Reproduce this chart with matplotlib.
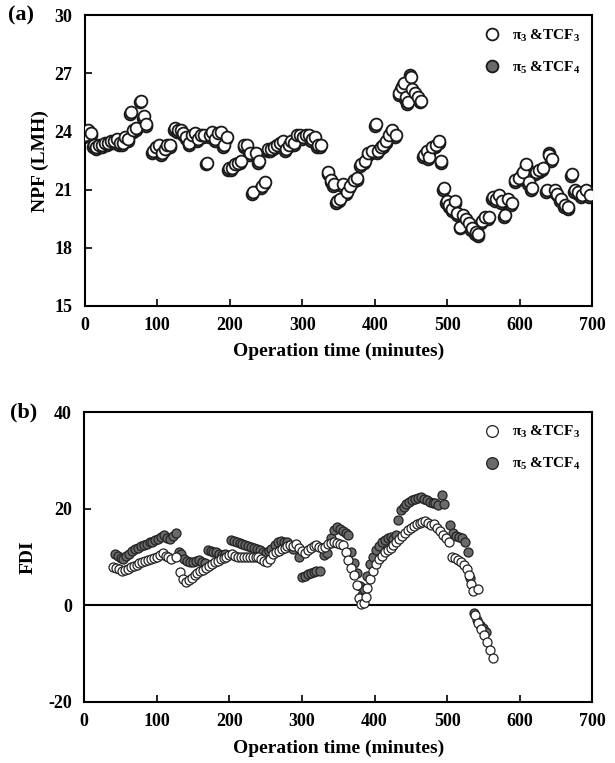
import matplotlib.pyplot as plt
import numpy as np

plt.rcParams['font.family'] = ['Liberation Serif', 'DejaVu Serif']
plt.rcParams['font.weight'] = 'bold'
plt.rcParams['mathtext.fontset'] = 'custom'
plt.rcParams['mathtext.rm'] = 'Liberation Serif:bold'
plt.rcParams['mathtext.it'] = 'Liberation Serif:bold'
plt.rcParams['mathtext.bf'] = 'Liberation Serif:bold'
plt.rcParams['axes.unicode_minus'] = False

# (a) NPF, pi3 & TCF3 (white markers)
npf_t_w = [0, 4, 9, 12, 16, 20, 24, 28, 32, 36, 40, 44, 48, 52, 56, 60, 63, 67, 71, 77, 81, 85,
           94, 98, 102, 106, 110, 114, 118,
           124, 128, 132, 136, 140, 144, 148, 152, 156, 160, 164, 168, 172, 176, 180, 184, 188, 192, 196,
           199, 203, 207, 211, 215, 220, 224, 228, 232, 236, 240, 244, 248,
           253, 257, 261, 265, 269, 273, 277, 281, 285, 289, 293, 297, 301, 305, 309, 313, 317, 321, 326,
           336, 340, 344, 348, 352, 356, 361, 366, 371, 376, 381, 386, 391, 396,
           401, 404, 408, 412, 416, 420, 424, 429,
           434, 437, 440, 443, 446, 450, 452, 456, 460, 464,
           468, 472, 475, 479, 484, 489, 492, 495, 499, 503, 507, 511, 514, 518, 522, 526, 530, 534,
           539, 543, 548, 552, 557, 563, 567, 571, 575, 579, 584, 589,
           594, 599, 604, 609, 613, 617, 622, 627, 632, 637, 641, 644, 648, 652, 657, 662, 667,
           672, 676, 681, 686, 691, 697]
npf_v_w = [23.8, 24.1, 23.9, 23.3, 23.2, 23.3, 23.3, 23.4, 23.4, 23.5, 23.5, 23.6, 23.4, 23.4, 23.7, 23.6,
           25.0, 24.1, 24.2, 25.6, 24.8, 24.4,
           23.0, 23.2, 23.3, 22.9, 23.1, 23.3, 23.3,
           24.2, 24.1, 24.1, 23.9, 23.7, 23.4, 23.8, 23.9, 23.6, 23.8, 23.8, 22.4, 23.8, 24.0, 23.6, 23.9,
           24.0, 23.3, 23.7,
           22.1, 22.1, 22.3, 22.4, 22.5, 23.3, 23.3, 22.9, 20.9, 22.9, 22.5, 21.2, 21.4,
           23.1, 23.1, 23.2, 23.3, 23.4, 23.5, 23.1, 23.3, 23.5, 23.4, 23.8, 23.8, 23.7, 23.8, 23.8, 23.6,
           23.7, 23.3, 23.3,
           21.9, 21.5, 21.3, 20.4, 20.5, 21.3, 20.9, 21.2, 21.5, 21.6, 22.3, 22.5, 22.9, 23.0,
           24.4, 23.0, 23.2, 23.3, 23.5, 23.8, 24.1, 23.8,
           26.0, 26.3, 26.5, 25.8, 25.5, 26.8, 26.2, 26.0, 25.8, 25.6,
           22.8, 23.0, 22.7, 23.2, 23.3, 23.5, 22.5, 21.1, 20.4, 20.2, 20.0, 20.4, 19.8, 19.1, 19.7, 19.5,
           19.3, 19.0,
           18.8, 18.7, 19.4, 19.6, 19.6, 20.6, 20.5, 20.7, 20.4, 19.7, 20.5, 20.3,
           21.5, 21.6, 21.9, 22.3, 21.4, 21.1, 21.9, 22.0, 22.1, 21.0, 22.8, 22.6, 21.0, 20.8, 20.5, 20.2,
           20.1,
           21.8, 21.0, 20.9, 20.7, 21.0, 20.7]

# (a) NPF, pi5 & TCF4 (grey markers, mostly hidden behind the white ones)
npf_t_g = [-1, 3, 8, 11, 15, 19, 23, 27, 31, 35, 39, 43, 47, 51, 55, 59, 62, 66, 70, 76, 80, 84,
           93, 97, 101, 105, 109, 113, 117,
           123, 127, 131, 135, 139, 143, 147, 151, 155, 159, 163, 167, 171, 175, 179, 183, 187, 191, 195,
           198, 202, 206, 210, 214, 219, 223, 227, 231, 235, 239, 243, 247,
           252, 256, 260, 264, 268, 272, 276, 280, 284, 288, 292, 296, 300, 304, 308, 312, 316, 320, 325,
           335, 339, 343, 347, 351, 355, 360, 365, 370, 375, 380, 385, 390, 395,
           400, 403, 407, 411, 415, 419, 423, 428,
           433, 436, 439, 442, 445, 449, 451, 455, 459, 463,
           467, 471, 474, 478, 483, 488, 491, 494, 498, 502, 506, 510, 513, 517, 521, 525, 529, 533,
           538, 542, 547, 551, 556, 562, 566, 570, 574, 578, 583, 588,
           593, 598, 603, 608, 612, 616, 621, 626, 631, 636, 640, 643, 647, 651, 656, 661, 666,
           671, 675, 680, 685, 690, 696]
npf_v_g = [23.7, 24.0, 23.8, 23.2, 23.1, 23.2, 23.2, 23.3, 23.3, 23.4, 23.4, 23.5, 23.3, 23.3, 23.6, 23.5,
           24.9, 24.0, 24.1, 25.5, 24.7, 24.3,
           22.9, 23.1, 23.2, 22.8, 23.0, 23.2, 23.2,
           24.1, 24.0, 24.0, 23.8, 23.6, 23.3, 23.7, 23.8, 23.5, 23.7, 23.7, 22.3, 23.7, 23.9, 23.5, 23.8,
           23.9, 23.2, 23.6,
           22.0, 22.0, 22.2, 22.3, 22.4, 23.2, 23.2, 22.8, 20.8, 22.8, 22.4, 21.1, 21.3,
           23.0, 23.0, 23.1, 23.2, 23.3, 23.4, 23.0, 23.2, 23.4, 23.3, 23.7, 23.7, 23.6, 23.7, 23.7, 23.5,
           23.6, 23.2, 23.2,
           21.8, 21.4, 21.2, 20.3, 20.4, 21.2, 20.8, 21.1, 21.4, 21.5, 22.2, 22.4, 22.8, 22.9,
           24.3, 22.9, 23.1, 23.2, 23.4, 23.7, 24.0, 23.7,
           25.9, 26.2, 26.4, 25.7, 25.4, 26.9, 26.1, 25.9, 25.7, 25.5,
           22.7, 22.9, 22.6, 23.1, 23.2, 23.4, 22.4, 21.0, 20.3, 20.1, 19.9, 20.3, 19.7, 19.0, 19.6, 19.4,
           19.2, 18.9,
           18.7, 18.6, 19.3, 19.5, 19.5, 20.5, 20.4, 20.6, 20.3, 19.6, 20.4, 20.2,
           21.4, 21.5, 21.8, 22.2, 21.3, 21.0, 21.8, 21.9, 22.0, 20.9, 22.9, 22.5, 20.9, 20.7, 20.4, 20.1,
           20.0,
           21.7, 20.9, 20.8, 20.6, 20.9, 20.6]

# (b) FDI, pi3 & TCF3 (white markers)
fdi_t_w = [40, 44, 48, 52, 56, 60, 64, 68, 72, 76, 80, 84, 88, 92, 96, 100, 104, 108, 112, 116, 120, 126,
           132, 136, 140, 144, 148, 152, 156, 160, 164, 168, 172, 176, 180, 184, 188, 192, 196, 200,
           204, 208, 212, 216, 220, 224, 228, 232, 236, 240, 244, 248, 252, 256, 260, 264, 268, 272,
           276, 280, 284, 288, 292, 296, 300, 304, 308, 312, 316, 320, 324, 328, 332, 336, 340, 344,
           348, 352, 356, 360, 364, 368, 372, 376, 379, 381, 385, 388, 390, 394, 398, 402, 406, 410,
           414, 418, 422, 426, 430, 434, 438, 442, 446, 450, 454, 458, 462, 466, 470, 474, 478, 482,
           486, 490, 494, 498, 502, 507, 511, 515, 519, 523, 527, 530, 533, 535, 543,
           539, 543, 547, 551, 555, 559, 563]
fdi_v_w = [8.0, 7.8, 7.5, 7.2, 7.3, 7.6, 7.9, 8.2, 8.4, 8.7, 9.0, 9.2, 9.4, 9.6, 9.8, 10.1, 10.4, 10.8,
           10.3, 9.9, 9.6, 10.0,
           6.8, 5.5, 4.8, 5.2, 5.7, 6.2, 6.6, 7.0, 7.4, 7.8, 8.2, 8.5, 8.9, 9.2, 9.5, 9.8, 10.1, 10.4,
           10.7, 10.2, 10.0, 10.0, 10.0, 10.1, 10.0, 10.0, 10.0, 9.9, 9.6, 9.2, 8.9, 9.6, 10.6, 11.0,
           11.3, 11.6, 11.9, 12.2, 12.4, 12.2, 12.6, 11.8, 11.3, 10.8, 11.4, 11.8, 12.2, 12.4, 12.1,
           11.9, 12.1, 12.6, 12.9, 13.2, 12.9, 12.6, 12.4, 11.0, 9.4, 7.8, 6.3, 4.2, 1.5, 0.2, 0.4,
           1.8, 3.5, 5.4, 7.0, 8.5, 9.6, 10.3, 11.0, 11.5, 11.9, 12.4, 13.2, 13.8, 14.4, 15.0, 15.6,
           16.1, 16.5, 16.8, 17.0, 17.3, 17.5, 17.0, 16.6, 16.9, 16.0, 15.4, 14.6, 14.0, 13.2, 10.0,
           9.8, 9.4, 9.0, 8.4, 7.5, 6.3, 4.5, 3.0, 3.4,
           -2.0, -3.6, -4.8, -6.2, -7.6, -9.2, -10.8]

# (b) FDI, pi5 & TCF4 (grey markers)
fdi_t_g = [42, 46, 50, 54, 58, 62, 66, 70, 74, 78, 82, 86, 90, 94, 98, 102, 106, 110, 114, 118, 122, 126,
           130, 134, 138, 142, 146, 150, 154, 158, 162, 166, 170, 174, 178, 182, 186, 190, 194,
           202, 206, 210, 214, 218, 222, 226, 230, 234, 238, 242, 246, 250, 254, 258, 263, 267, 271,
           275, 279, 283, 287,
           296, 300, 304, 308, 312, 316, 320, 325, 330, 334, 340, 344, 348, 352, 356, 360, 364, 368,
           372, 376, 380, 383, 386, 390, 394, 398, 402, 406, 410, 414, 418, 422, 426, 430, 433, 436,
           440, 444, 448, 452, 456, 460, 464, 468, 472, 476, 480, 484, 488, 493, 496, 504, 508, 512,
           516, 520, 524, 529, 532, 537, 541, 545, 549, 553]
fdi_v_g = [10.6, 10.2, 9.8, 9.5, 10.2, 10.7, 11.2, 11.6, 11.9, 12.2, 12.5, 12.7, 13.0, 13.2, 13.5, 13.8,
           14.2, 14.5, 14.0, 13.8, 14.3, 15.0,
           11.1, 10.6, 9.6, 9.2, 9.0, 9.0, 9.1, 9.3, 8.9, 8.7, 11.4, 11.3, 11.1, 11.0, 10.7, 10.5, 10.6,
           13.6, 13.3, 13.0, 12.8, 12.6, 12.5, 12.3, 12.1, 11.9, 11.7, 11.4, 11.1, 10.8, 11.2, 11.6,
           12.4, 13.2, 13.3, 13.0, 13.2, 12.4, 11.7,
           9.9, 5.8, 6.1, 6.4, 6.7, 6.9, 7.0, 7.1, 10.4, 10.9, 14.0, 15.6, 16.3, 15.8, 15.4, 15.0, 14.5,
           11.1, 8.7, 6.6, 4.0, 2.1, 3.4, 6.0, 8.6, 10.1, 11.4, 12.3, 13.0, 13.6, 14.0, 14.2, 13.8, 14.6,
           17.6, 19.8, 20.4, 21.0, 21.4, 21.8, 22.1, 22.3, 22.5, 22.0, 21.7, 21.4, 21.1, 21.2, 20.8,
           22.8, 21.0, 16.6, 15.0, 14.3, 14.1, 13.9, 13.2, 11.1, 5.6, -1.6, -3.0, -4.0, -4.6, -5.5]

label_w = r'$\pi_3$ &TCF$_3$'
label_g = r'$\pi_5$ &TCF$_4$'
grey = '#6a6a6a'

fig = plt.figure(figsize=(6.15, 7.63), dpi=100)
ax1 = fig.add_axes([0.138, 0.599, 0.825, 0.381])
ax2 = fig.add_axes([0.137, 0.080, 0.826, 0.380])

ax1.plot(npf_t_g, npf_v_g, 'o', ms=8.5, mfc=grey, mec='#1a1a1a', mew=1.3, label=label_g, zorder=2)
ax1.plot(npf_t_w, npf_v_w, 'o', ms=8.5, mfc='white', mec='#1a1a1a', mew=1.3, label=label_w, zorder=3)
ax1.set_xlim(0, 700)
ax1.set_ylim(15, 30)
ax1.set_xticks(np.arange(0, 701, 100))
ax1.set_yticks(np.arange(15, 31, 3))
ax1.set_ylabel('NPF (LMH)', fontsize=14, fontweight='bold', labelpad=4)
ax1.set_xlabel('Operation time (minutes)', fontsize=14, fontweight='bold', labelpad=6)

ax2.plot(fdi_t_g, fdi_v_g, 'o', ms=6.5, mfc=grey, mec='#222222', mew=0.9, label=label_g, zorder=2)
ax2.plot(fdi_t_w, fdi_v_w, 'o', ms=6.5, mfc='white', mec='#222222', mew=0.9, label=label_w, zorder=3)
ax2.axhline(0, color='black', lw=1.5, zorder=1)
ax2.set_xlim(0, 700)
ax2.set_ylim(-20, 40)
ax2.set_xticks(np.arange(0, 701, 100))
ax2.set_yticks(np.arange(-20, 41, 20))
ax2.set_ylabel('FDI', fontsize=14, fontweight='bold', labelpad=8)
ax2.set_xlabel('Operation time (minutes)', fontsize=14, fontweight='bold', labelpad=7)

for ax, mscale in ((ax1, 1.0), (ax2, 1.3)):
    for s in ax.spines.values():
        s.set_linewidth(1.5)
    ax.tick_params(direction='in', length=5, width=1.2, top=False, right=False, labelsize=13)
    ax.tick_params(axis='x', pad=8)
    ax.tick_params(axis='y', pad=9)
    for lab in ax.get_xticklabels() + ax.get_yticklabels():
        lab.set_fontweight('bold')
    h, l = ax.get_legend_handles_labels()
    ax.legend(h[::-1], l[::-1], loc='upper right', frameon=False, fontsize=11,
              handletextpad=0.3, labelspacing=1.05, borderaxespad=0.4, markerscale=mscale)

fig.text(0.013, 0.980, '(a)', fontsize=16, fontweight='bold', va='center')
fig.text(0.016, 0.460, '(b)', fontsize=16, fontweight='bold', va='center')

plt.savefig('out.png', dpi=100)
